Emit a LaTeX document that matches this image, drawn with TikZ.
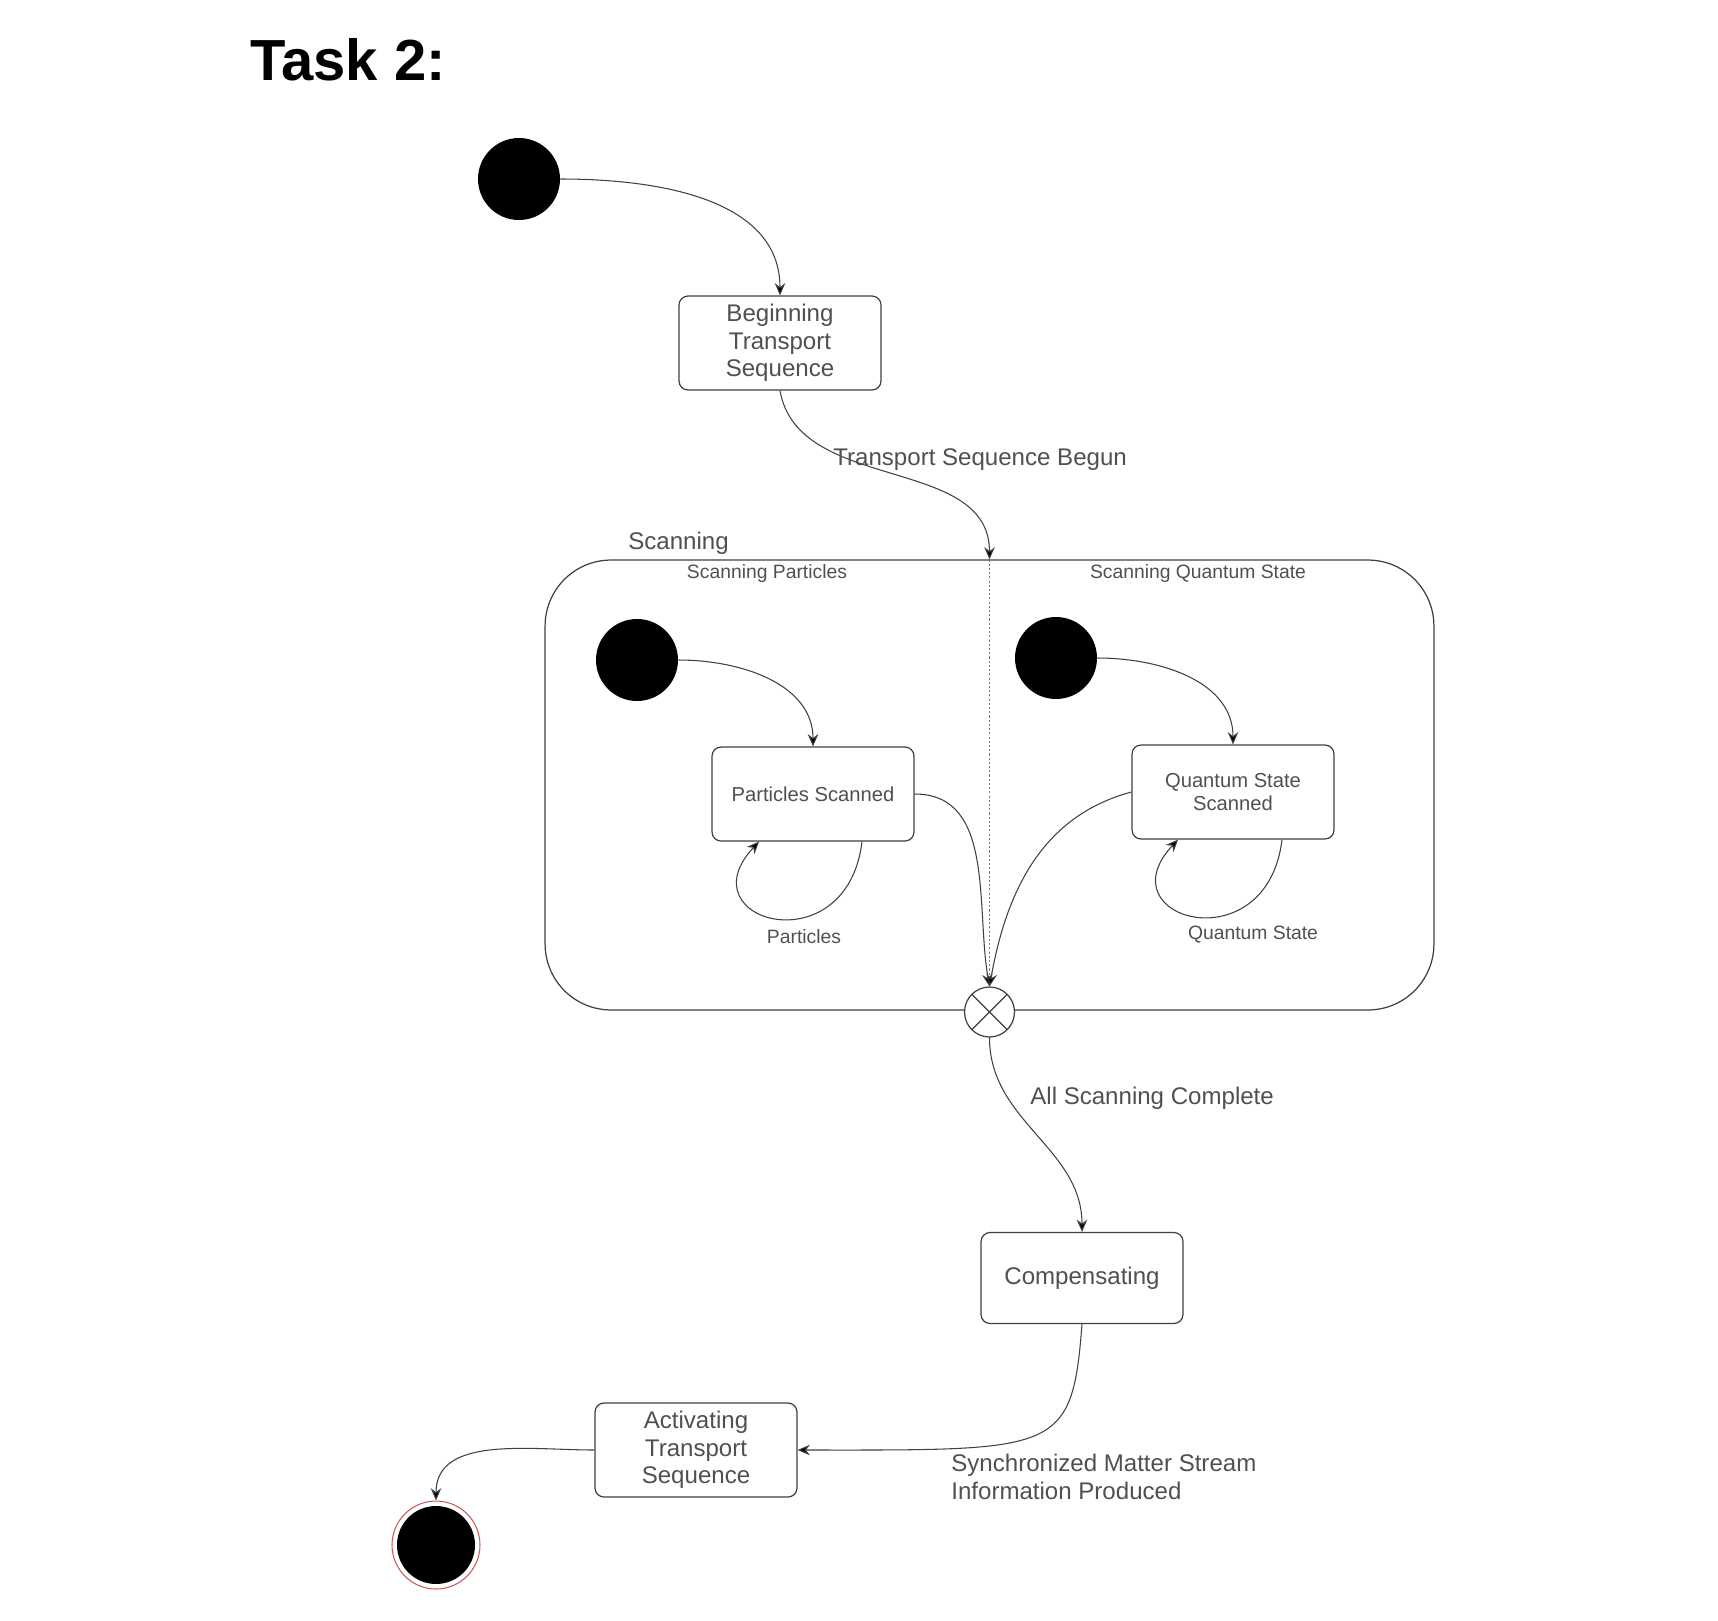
\documentclass[tikz,border=0pt]{standalone}
\usepackage{fontspec}
\setmainfont{Liberation Sans}
\usetikzlibrary{arrows.meta,calc}
\definecolor{txtgray}{HTML}{505050}
\definecolor{linegray}{HTML}{404040}
\definecolor{ringred}{HTML}{C85A5A}

\begin{document}
\begin{tikzpicture}[x=0.02cm,y=0.02cm,
  every node/.style={text=txtgray},
  init/.style={circle,fill=black,minimum size=1.64cm,inner sep=0pt},
  finalst/.style={circle,draw=ringred,line width=0.6pt,fill=white,minimum size=1.76cm,inner sep=0pt,
    path picture={\fill[black] (path picture bounding box.center) circle (0.78cm);}},
  st/.style={draw=linegray,line width=0.7pt,rounded corners=0.18cm,fill=white,minimum width=4.04cm,
    minimum height=1.88cm,align=center,font=\fontsize{13.7}{15.6}\selectfont},
  substate/.style={st,font=\fontsize{11.5}{13}\selectfont},
  comp/.style={draw=linegray,line width=0.7pt,rounded corners=1.32cm,minimum width=17.78cm,minimum height=9cm},
  lbl/.style={font=\fontsize{13.7}{15.6}\selectfont,align=left,inner sep=0pt},
  smlbl/.style={font=\fontsize{11}{13}\selectfont,inner sep=0pt},
  tr/.style={draw=linegray,line width=0.6pt,-{Stealth[length=7pt,width=6pt,fill=black]}},
  joinst/.style={circle,draw=linegray,line width=0.7pt,fill=white,minimum size=1cm,inner sep=0pt,
    path picture={\draw[linegray,line width=0.7pt]
      (path picture bounding box.north west) -- (path picture bounding box.south east)
      (path picture bounding box.north east) -- (path picture bounding box.south west);}}
]
\useasboundingbox (0,0) rectangle (1718,-1620);

\node[anchor=base west,text=black,inner sep=0pt,font=\fontsize{33}{40}\selectfont\bfseries] (title) at (250,-80) {Task 2:};

% top part
\node[init] (start) at (519,-179) {};
\node[st] (begin) at (780,-343) {Beginning\\Transport\\Sequence};
\draw[tr] (start.east) to[out=0,in=90] (begin.north);

% composite state
\node[comp] (scan) at (989.5,-785) {};
\node[lbl,anchor=west] (scanlbl) at (628,-543) {Scanning};
\node[smlbl] (regp) at (767,-573) {Scanning Particles};
\node[smlbl] (regq) at (1198,-573) {Scanning Quantum State};
\node[joinst] (join) at (989.5,-1012) {};
\draw[linegray!70,line width=0.4pt,dash pattern=on 1.2pt off 1.2pt] (scan.north) -- (join.north);

\draw[tr] (begin.south) to[out=-80,in=90] (scan.north);
\node[lbl,anchor=west] (beglbl) at (833,-460) {Transport Sequence Begun};

% region: particles
\node[init] (pinit) at (637,-660) {};
\node[substate] (pbox) at (813,-794) {Particles Scanned};
\draw[tr] (pinit.east) to[out=0,in=90] (pbox.north);
\draw[tr] ($(pbox.south)+(49,0)$) .. controls +(-15,-125) and +(-75,-80) .. ($(pbox.south)+(-54,0)$);
\node[smlbl] (ploop) at (804,-937) {Particles};

% region: quantum state
\node[init] (qinit) at (1056,-658) {};
\node[substate] (qbox) at (1233,-792) {Quantum State\\Scanned};
\draw[tr] (qinit.east) to[out=0,in=90] (qbox.north);
\draw[tr] ($(qbox.south)+(49,0)$) .. controls +(-15,-125) and +(-75,-80) .. ($(qbox.south)+(-55,0)$);
\node[smlbl] (qloop) at (1253,-935) {Quantum State};

% join
\draw[tr] (pbox.east) to[out=0,in=100] (join.north);
\draw[tr] (qbox.west) to[out=195,in=80] (join.north);

% lower part
\node[st,minimum height=1.82cm] (cbox) at (1082,-1278) {Compensating};
\draw[tr] (join.south) to[out=-90,in=90] (cbox.north);
\node[lbl,anchor=west] (alllbl) at (1030,-1098) {All Scanning Complete};

\node[st] (abox) at (696,-1450) {Activating\\Transport\\Sequence};
\draw[tr] (cbox.south) .. controls +(-10,-130) and +(260,0) .. (abox.east);
\node[lbl,anchor=west] (synclbl) at (951,-1477) {Synchronized Matter Stream\\Information Produced};

\node[finalst] (stop) at (436,-1545) {};
\draw[tr] (abox.west) to[out=180,in=90] (stop.north);
\end{tikzpicture}
\end{document}
